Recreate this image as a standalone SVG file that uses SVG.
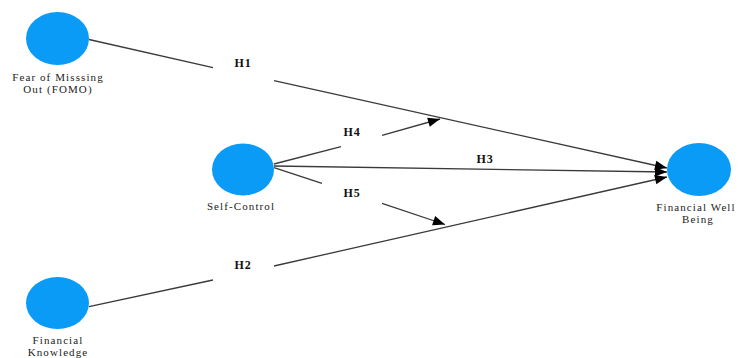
<svg xmlns="http://www.w3.org/2000/svg" width="738" height="358" viewBox="0 0 738 358">
  <style>
    .node { fill: #0a9bf7; }
    .name { font-family: "Liberation Serif", "Times New Roman", serif; font-size: 11px; letter-spacing: 1.1px; fill: #222; text-anchor: middle; }
    .hyp { font-family: "Liberation Serif", "Times New Roman", serif; font-size: 12px; font-weight: bold; letter-spacing: 0.8px; fill: #111; text-anchor: middle; }
    .link { stroke: #3a3a3a; stroke-width: 1.3; fill: none; }
    .arrow { marker-end: url(#head); }
  </style>
  <defs>
    <marker id="head" markerUnits="userSpaceOnUse" markerWidth="14" markerHeight="12" viewBox="0 0 14 12" refX="13" refY="6" orient="auto">
      <path d="M1,1.2 L13,6 L1,10.8 Z" fill="#000"/>
    </marker>
  </defs>
  <rect width="738" height="358" fill="#fff"/>

  <g id="connectors">
    <!-- H1: FOMO -> Financial Well Being -->
    <line class="link" x1="89" y1="39.5" x2="213" y2="67.7"/>
    <line class="link arrow" x1="274" y1="80.7" x2="667" y2="168"/>
    <!-- H2: Financial Knowledge -> Financial Well Being -->
    <line class="link" x1="89" y1="306.7" x2="213" y2="280"/>
    <line class="link arrow" x1="274" y1="266" x2="667" y2="177"/>
    <!-- H3: Self-Control -> Financial Well Being -->
    <line class="link arrow" x1="274" y1="166" x2="667" y2="172"/>
    <!-- H4: moderation of H1 -->
    <line class="link" x1="274" y1="164" x2="341" y2="146.7"/>
    <line class="link arrow" x1="382" y1="135.3" x2="440" y2="119"/>
    <!-- H5: moderation of H2 -->
    <line class="link" x1="274" y1="167.7" x2="322" y2="183.3"/>
    <line class="link arrow" x1="382" y1="203.3" x2="445" y2="224.5"/>

    <text class="hyp" x="243" y="67">H1</text>
    <text class="hyp" x="243" y="269">H2</text>
    <text class="hyp" x="485" y="163">H3</text>
    <text class="hyp" x="352" y="136">H4</text>
    <text class="hyp" x="352" y="196.5">H5</text>
  </g>

  <g id="fomo">
    <ellipse class="node" cx="57.5" cy="38.5" rx="31.5" ry="26.5"/>
    <text class="name" x="58" y="80.5">Fear of Misssing</text>
    <text class="name" x="58" y="93">Out (FOMO)</text>
  </g>

  <g id="self-control">
    <ellipse class="node" cx="243" cy="169.5" rx="31" ry="26"/>
    <text class="name" x="241" y="210">Self-Control</text>
  </g>

  <g id="financial-well-being">
    <ellipse class="node" cx="699" cy="169.5" rx="32" ry="26.5"/>
    <text class="name" x="696" y="210.5">Financial Well</text>
    <text class="name" x="698" y="223">Being</text>
  </g>

  <g id="financial-knowledge">
    <ellipse class="node" cx="57.5" cy="303" rx="31.5" ry="26"/>
    <text class="name" x="58" y="343.5">Financial</text>
    <text class="name" x="58" y="356">Knowledge</text>
  </g>
</svg>
